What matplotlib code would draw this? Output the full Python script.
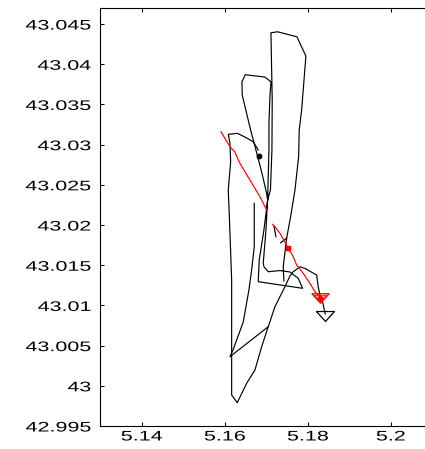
import numpy as np
import matplotlib
matplotlib.use("Agg")
import matplotlib.pyplot as plt
from matplotlib.patheffects import AbstractPathEffect
from matplotlib.transforms import Affine2D

# ============================================================
# DATA (lon / lat)
# ============================================================

# black track, split into pieces
seg_a_lon = [5.16710, 5.16710, 5.16647, 5.16582, 5.16445, 5.16205, 5.16125, 5.17047]
seg_a_lat = [43.02270, 43.01726, 43.01440, 43.01192, 43.00794, 43.00454, 43.00362, 43.00735]

seg_b_lon = [5.17425, 5.17408, 5.17490, 5.17586, 5.17690, 5.17779, 5.17793, 5.17851,
             5.17954, 5.17738, 5.17273, 5.17112, 5.17143, 5.17136, 5.17100, 5.17032,
             5.16992, 5.16927, 5.16943, 5.17047, 5.17329, 5.17569, 5.17769, 5.17875,
             5.16806, 5.16830, 5.16943, 5.17032, 5.17064, 5.17064, 5.17088, 5.17112,
             5.16967, 5.16493, 5.16414, 5.16421, 5.16623, 5.16751, 5.16895, 5.17008,
             5.17032]
seg_b_lat = [43.01304, 43.01481, 43.01835, 43.02103, 43.02435, 43.02850, 43.03182, 43.03430,
             43.04102, 43.04342, 43.04404, 43.04392, 43.03555, 43.02933, 43.02435, 43.02311,
             43.01938, 43.01527, 43.01481, 43.01419, 43.01434, 43.01416, 43.01337, 43.01213,
             43.01295, 43.01565, 43.01938, 43.02311, 43.02933, 43.03269, 43.03596, 43.03782,
             43.03841, 43.03870, 43.03782, 43.03617, 43.03182, 43.02933, 43.02647, 43.02394,
             43.02311]

seg_c_lon = [5.16806, 5.16686, 5.16486, 5.16301, 5.16084, 5.16125, 5.16142, 5.16084,
             5.16108, 5.16166, 5.16166, 5.16301, 5.16527, 5.16727, 5.16888, 5.17047,
             5.17208, 5.17449, 5.17569, 5.17649, 5.17810, 5.17930, 5.18212, 5.18250,
             5.18308, 5.18363, 5.18419]
seg_c_lat = [43.02933, 43.03036, 43.03095, 43.03141, 43.03128, 43.03020, 43.02787, 43.02435,
             43.02146, 43.01316, 42.99886, 42.99790, 43.00031, 43.00197, 43.00486, 43.00735,
             43.00984, 43.01233, 43.01366, 43.01419, 43.01481, 43.01461, 43.01378, 43.01233,
             43.01088, 43.01030, 43.00893]

seg_d_lon = [5.17184, 5.17232]
seg_d_lat = [43.01988, 43.01855]
seg_e_lon = [5.17345, 5.17490]
seg_e_lat = [43.01780, 43.01835]

# red track (two pieces)
red1_lon = [5.15909, 5.16125, 5.16245, 5.16325, 5.16366, 5.16606, 5.16847, 5.17008]
red1_lat = [43.03161, 43.02974, 43.02908, 43.02809, 43.02767, 43.02560, 43.02352, 43.02187]
red2_lon = [5.17153, 5.17232, 5.17329, 5.17449, 5.17528, 5.17641, 5.17730, 5.17889,
            5.18050, 5.18171, 5.18303]
red2_lat = [43.02009, 43.01963, 43.01897, 43.01789, 43.01710, 43.01614, 43.01503, 43.01399,
            43.01275, 43.01170, 43.01098]

# point markers
black_end = (5.18419, 43.00868)
red_end = (5.18303, 43.01092)
black_dot = (5.16830, 43.02862)
red_dot = (5.17528, 43.01710)

x_ticks = [5.14, 5.16, 5.18, 5.2]
y_ticks = [42.995, 43.0, 43.005, 43.01, 43.015, 43.02, 43.025, 43.03, 43.035, 43.04, 43.045]


# ============================================================
# WIDE TICK TEXT (reference text is horizontally stretched)
# ============================================================

class WideText(AbstractPathEffect):
    def __init__(self, sx=1.55, anchor="center"):
        super().__init__()
        self.sx = sx
        self.anchor = anchor

    def draw_path(self, renderer, gc, tpath, affine, rgbFace=None):
        ext = tpath.get_extents(affine)
        x0 = ext.x1 if self.anchor == "right" else 0.5 * (ext.x0 + ext.x1)
        aff = affine + Affine2D().translate(-x0, 0).scale(self.sx, 1).translate(x0, 0)
        renderer.draw_path(gc, tpath, aff, rgbFace)


plt.rcParams["font.family"] = ["Liberation Sans", "DejaVu Sans"]

fig = plt.figure(figsize=(4.25, 4.49), dpi=100)
ax = fig.add_axes([100 / 425, 23 / 449, 332.4 / 425, 418 / 449])

lw = 0.85
for lon, lat in [(seg_a_lon, seg_a_lat), (seg_b_lon, seg_b_lat), (seg_c_lon, seg_c_lat),
                 (seg_d_lon, seg_d_lat), (seg_e_lon, seg_e_lat)]:
    ax.plot(lon, lat, color="black", linewidth=lw)

for lon, lat in [(red1_lon, red1_lat), (red2_lon, red2_lat)]:
    ax.plot(lon, lat, color="red", linewidth=lw)

tri = [(-1, 0.55), (1, 0.55), (0, -0.55), (-1, 0.55)]
ax.plot(*black_end, marker=tri, markersize=13, markerfacecolor="none",
        markeredgecolor="black", markeredgewidth=0.9, linestyle="none")
ax.plot(*red_end, marker=tri, markersize=12.5, markerfacecolor="none",
        markeredgecolor="red", markeredgewidth=0.9, linestyle="none")
ax.plot(*red_end, marker=tri, markersize=8.5, markerfacecolor="none",
        markeredgecolor="red", markeredgewidth=0.7, linestyle="none")
ax.plot(*red_end, marker="o", markersize=3.2, color="red", linestyle="none")
ax.plot(*red_dot, marker="s", markersize=2.8, color="red", linestyle="none")
ax.plot(*black_dot, marker="o", markersize=3.2, color="black", linestyle="none")

ax.set_xlim(5.12996, 5.21)
ax.set_ylim(42.995, 43.047)
ax.set_xticks(x_ticks)
ax.set_xticklabels([f"{v:g}" for v in x_ticks])
ax.set_yticks(y_ticks)
ax.set_yticklabels([f"{v:g}" for v in y_ticks])

ax.tick_params(direction="in", top=True, right=True, length=3, width=0.75,
               labelsize=10, colors="black")
ax.tick_params(axis="x", pad=2.5)
ax.tick_params(axis="y", pad=6.5)
for sp in ax.spines.values():
    sp.set_linewidth(0.8)

for t in ax.get_xticklabels():
    t.set_path_effects([WideText(1.55, "center")])
for t in ax.get_yticklabels():
    t.set_path_effects([WideText(1.55, "right")])

fig.savefig("out.png", dpi=100)
